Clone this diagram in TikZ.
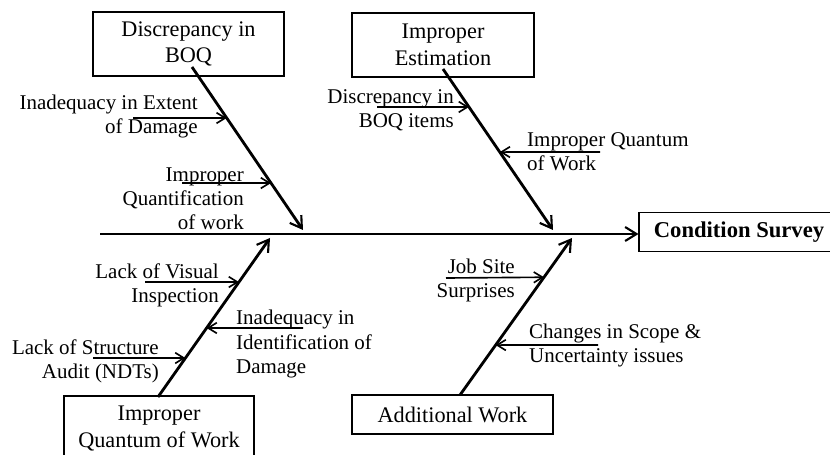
\documentclass[tikz,border=0pt]{standalone}
\usepackage{fontspec}
\setmainfont{Liberation Serif}
\usetikzlibrary{arrows.meta,calc}

\begin{document}
\begin{tikzpicture}[x=0.03cm,y=-0.03cm,
    every node/.style={font=\fontsize{17.9pt}{20.5pt}\selectfont, inner sep=0pt},
    box/.style={draw, line width=0.9pt, align=center, font=\fontsize{19pt}{22.5pt}\selectfont},
    bone/.style={line width=2.4pt, -{Straight Barb[length=3.4mm,width=4.2mm,line width=1.8pt]}},
    twig/.style={line width=1.4pt, -{Straight Barb[length=2.6mm,width=3.2mm]}}]

  \clip (0,0) rectangle (830,455);

  % Kaesten
  \node[box, minimum width=5.73cm, minimum height=1.92cm] (boq) at (188.5,44) {Discrepancy in\\BOQ};
  \node[box, minimum width=5.46cm, minimum height=1.92cm] (est) at (443,45) {Improper\\Estimation};
  \node[box, minimum width=5.70cm, minimum height=1.95cm] (qow) at (159,428.5) {Improper\\Quantum of Work};
  \node[box, minimum width=6.03cm, minimum height=1.17cm] (add) at (452.5,414.5) {Additional Work};
  \node[box, minimum width=6.00cm, minimum height=1.17cm, font=\fontsize{19.3pt}{22pt}\selectfont\bfseries] (cs) at (739,232) {Condition Survey};

  % Hauptachse
  \coordinate (sp) at (100,234);
  \draw[bone] (sp) -- (sp -| cs.west);

  % Graeten
  \coordinate (t1) at (192,67);  \coordinate (h1) at (303,230);
  \coordinate (t2) at (443,69);  \coordinate (h2) at (553,230);
  \coordinate (t3) at (158,397); \coordinate (h3) at (270,238);
  \coordinate (t4) at (460,395); \coordinate (h4) at (572,238);
  \draw[bone] (t1) -- (h1);
  \draw[bone] (t2) -- (h2);
  \draw[bone] (t3) -- (h3);
  \draw[bone] (t4) -- (h4);

  % Ursachen
  \node[anchor=east, align=right] (l1) at (198,116) {Inadequacy in Extent\\of Damage};
  \node[anchor=east, align=right] (l2) at (244,199) {Improper\\Quantification\\of work};
  \node[anchor=east, align=right] (l3) at (454,110) {Discrepancy in\\BOQ items};
  \node[anchor=west, align=left] (l4) at (527,152) {Improper Quantum\\of Work};
  \node[anchor=east, align=right] (l5) at (219,285) {Lack of Visual\\Inspection};
  \node[anchor=west, align=left] (l6) at (236,344) {Inadequacy in\\Identification of\\Damage};
  \node[anchor=east, align=right] (l7) at (159,361) {Lack of Structure\\Audit (NDTs)};
  \node[anchor=east, align=right] (l8) at (515,280) {Job Site\\Surprises};
  \node[anchor=west, align=left] (l9) at (529,345) {Changes in Scope \&\\Uncertainty issues};

  \coordinate (a1) at ($(t1)!0.313!(h1)$); \coordinate (a1s) at (133,118);
  \coordinate (a2) at ($(t1)!0.712!(h1)$); \coordinate (a2s) at (182,183);
  \coordinate (b1) at ($(t2)!0.236!(h2)$); \coordinate (b1s) at (377,107);
  \coordinate (b2) at ($(t2)!0.516!(h2)$); \coordinate (b2s) at (600,152);
  \coordinate (c1) at ($(t3)!0.723!(h3)$); \coordinate (c1s) at (145,282);
  \coordinate (c2) at ($(t3)!0.434!(h3)$); \coordinate (c2s) at (303,328);
  \coordinate (c3) at ($(t3)!0.245!(h3)$); \coordinate (c3s) at (93,358);
  \coordinate (d1) at ($(t4)!0.750!(h4)$); \coordinate (d1s) at (446,278);
  \coordinate (d2) at ($(t4)!0.318!(h4)$); \coordinate (d2s) at (598,345);

  \foreach \p in {a1,a2,b1,b2,c1,c2,c3,d1,d2}
    \draw[twig] (\p s) -- (\p);

\end{tikzpicture}
\end{document}
